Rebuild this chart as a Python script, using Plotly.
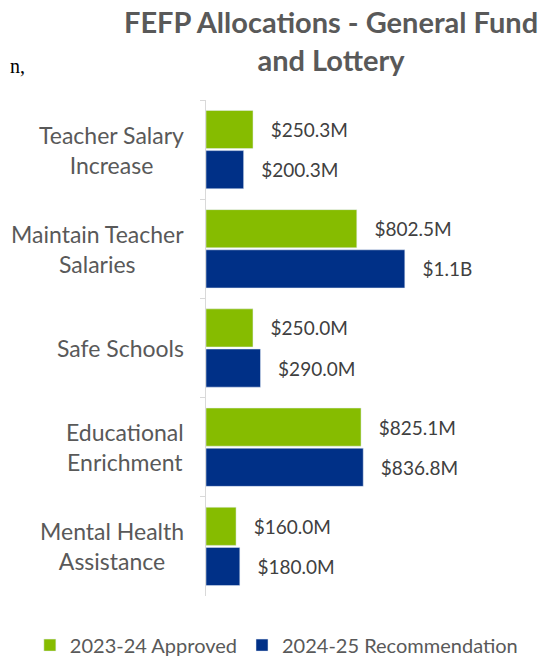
import plotly.graph_objects as go

# FEFP allocations, in $ millions
categories = ["Teacher Salary<br>Increase", "Maintain Teacher<br>Salaries", "Safe Schools",
              "Educational<br>Enrichment", "Mental Health<br>Assistance"]
approved_2324 = [250.3, 802.5, 250.0, 825.1, 160.0]
recommend_2425 = [200.3, 1058.0, 290.0, 836.8, 180.0]
labels_2324 = ["$250.3M", "$802.5M", "$250.0M", "$825.1M", "$160.0M"]
labels_2425 = ["$200.3M", "$1.1B", "$290.0M", "$836.8M", "$180.0M"]

GREEN = "#86BC00"
NAVY = "#003087"
FONT = "Lato, 'Open Sans', sans-serif"

fig = go.Figure()
fig.add_trace(go.Bar(y=categories, x=approved_2324, orientation="h", name="2023-24 Approved",
                     marker=dict(color=GREEN), text=labels_2324, textposition="outside",
                     texttemplate="   %{text}", cliponaxis=False,
                     textfont=dict(size=19, color="#404040", family=FONT)))
fig.add_trace(go.Bar(y=categories, x=recommend_2425, orientation="h", name="2024-25 Recommendation",
                     marker=dict(color=NAVY), text=labels_2425, textposition="outside",
                     texttemplate="   %{text}", cliponaxis=False,
                     textfont=dict(size=19, color="#404040", family=FONT)))

# category labels: block right-aligned, lines centred (like the source)
for cat in categories:
    fig.add_annotation(text=cat, xref="paper", yref="y", x=-0.058, y=cat,
                       xanchor="right", yanchor="middle", align="center", showarrow=False,
                       font=dict(family=FONT, size=23, color="#595959"))

# title as an annotation so the two lines sit where they should
fig.add_annotation(text="<b>FEFP Allocations - General Fund<br>and Lottery</b>",
                   xref="paper", yref="paper", x=0.365, y=1.119, xanchor="center", yanchor="middle",
                   showarrow=False, font=dict(family=FONT, size=29, color="#595959"))
# stray text fragment from the source document at the left edge
fig.add_annotation(text="n,", xref="paper", yref="paper", x=-0.579, y=1.0685, xanchor="left",
                   yanchor="middle", showarrow=False,
                   font=dict(family="Liberation Serif", size=20, color="#000000"))

fig.update_layout(
    width=550, height=652,
    margin=dict(l=198, r=10, t=92, b=64, autoexpand=False),
    paper_bgcolor="white", plot_bgcolor="white",
    barmode="group", bargap=0.19, bargroupgap=0.05,
    font=dict(family=FONT, color="#595959"),
    showlegend=True,
    legend=dict(orientation="h", x=-0.515, xanchor="left",
                y=-0.099, yanchor="middle", font=dict(size=20, color="#595959"),
                traceorder="normal"),
    xaxis=dict(range=[0, 1820], visible=False),
    yaxis=dict(autorange="reversed", showline=True, linecolor="#D9D9D9", linewidth=1,
               ticks="outside", tickson="boundaries", ticklen=5, tickcolor="#D9D9D9",
               showticklabels=False, showgrid=False, zeroline=False, automargin=False),
)

fig.write_html("out.html")
